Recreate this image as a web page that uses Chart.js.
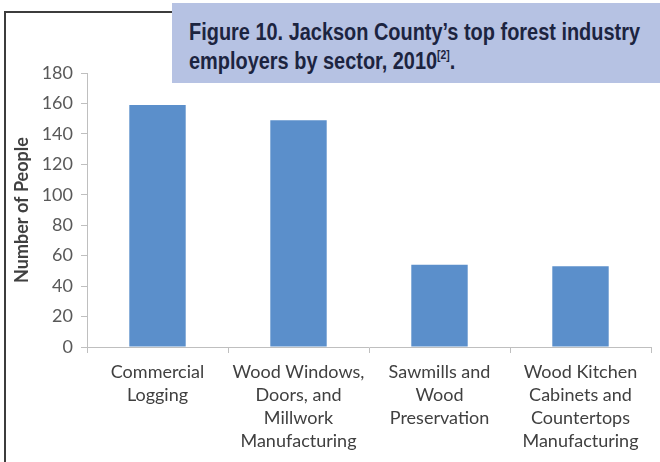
<!DOCTYPE html>
<html>
<head>
<meta charset="utf-8">
<script src="https://cdn.jsdelivr.net/npm/chart.js@4"></script>
<style>
  html, body { margin: 0; padding: 0; background: #fff; }
  #wrap { position: relative; width: 660px; height: 462px; overflow: hidden; }
  #frame {
    position: absolute; left: 4px; top: 11px; width: 700px; height: 500px;
    border-left: 2px solid #3c3c3c; border-top: 2px solid #3c3c3c;
  }
  #chart { position: absolute; left: 0; top: 0; }
  #caption {
    position: absolute; left: 172px; top: 3px; width: 488px; height: 80px;
    background: #b6c2e3; color: #1c2440;
    font-family: "Liberation Sans", Arial, sans-serif;
    font-weight: bold; font-size: 23px; line-height: 29px;
    box-sizing: border-box; padding: 15px 0 0 17px;
  }
  #caption span { display: inline-block; white-space: nowrap; transform-origin: 0 50%; }
  #caption sup { font-size: 12px; line-height: 0; vertical-align: 10px; }
</style>
</head>
<body>
<div id="wrap">
  <div id="frame"></div>
  <canvas id="chart" width="660" height="462"></canvas>
  <div id="caption"><span id="cap1">Figure 10. Jackson County’s top forest industry</span><br><span id="cap2">employers by sector, 2010<sup>[2]</sup>.</span></div>
</div>
<script>
const sectors = [
  ['Commercial', 'Logging'],
  ['Wood Windows,', 'Doors, and', 'Millwork', 'Manufacturing'],
  ['Sawmills and', 'Wood', 'Preservation'],
  ['Wood Kitchen', 'Cabinets and', 'Countertops', 'Manufacturing']
];
const employees = [159, 149, 54, 53];
const yMax = 180;
const yStep = 20;

const axisGray = '#bfbfbf';

// squeeze the caption into a condensed look: first line spans 451px
const cap1 = document.getElementById('cap1');
const squeeze = 451 / cap1.getBoundingClientRect().width;
cap1.style.transform = `scaleX(${squeeze})`;
document.getElementById('cap2').style.transform = `scaleX(${squeeze})`;

new Chart(document.getElementById('chart'), {
  type: 'bar',
  data: {
    labels: sectors,
    datasets: [{
      data: employees,
      backgroundColor: '#5b8fcb',
      borderWidth: 0,
      categoryPercentage: 0.8,
      barPercentage: 0.5
    }]
  },
  options: {
    responsive: false,
    animation: false,
    layout: { padding: { top: 73, right: 9, left: 7, bottom: 0 } },
    plugins: { legend: { display: false }, tooltip: { enabled: false } },
    scales: {
      x: {
        grid: { offset: true, drawOnChartArea: false, tickLength: 6, color: axisGray },
        border: { color: axisGray },
        ticks: {
          color: '#404040', maxRotation: 0, autoSkip: false, padding: 8,
          font: { family: 'Lato, sans-serif', size: 18, lineHeight: 1.28 }
        },
        afterFit: s => { s.height = 115; }
      },
      y: {
        min: 0, max: yMax,
        grid: { drawOnChartArea: false, tickLength: 6, color: axisGray },
        border: { color: axisGray },
        ticks: {
          stepSize: yStep, color: '#595959', padding: 8,
          font: { family: 'Lato, sans-serif', size: 18 }
        },
        title: {
          display: true, text: 'Number of People', color: '#404040',
          font: { family: 'Lato, sans-serif', size: 18, weight: 'bold' }
        },
        afterFit: s => { s.width = 80; }
      }
    }
  }
});
</script>
</body>
</html>
